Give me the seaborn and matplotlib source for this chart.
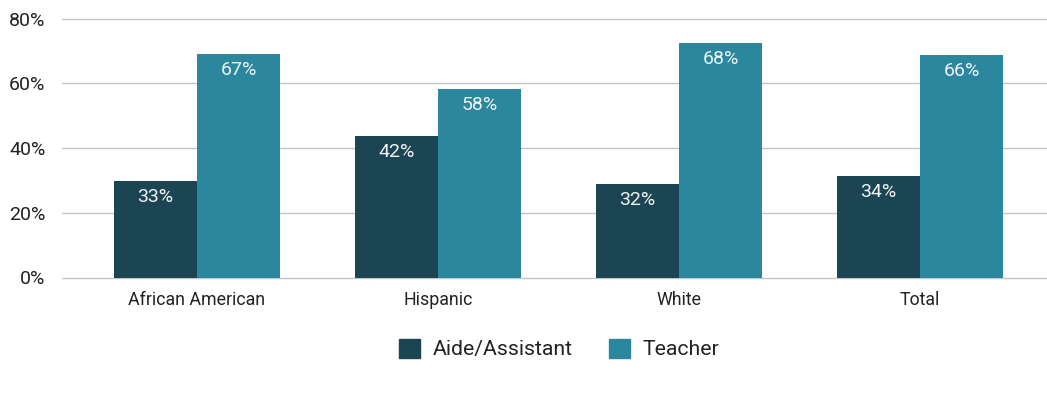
import pandas as pd
import seaborn as sns
import matplotlib.pyplot as plt
from matplotlib.ticker import PercentFormatter

# data (bar heights) and the printed labels
groups = ["African American", "Hispanic", "White", "Total"]
series = ["Aide/Assistant", "Teacher"]
aide_vals = [29.8, 43.7, 28.9, 31.4]
teacher_vals = [69.0, 58.2, 72.4, 68.7]
aide_labels = ["33%", "42%", "32%", "34%"]
teacher_labels = ["67%", "58%", "68%", "66%"]
colors = ["#1c4553", "#2a879e"]

df = pd.DataFrame({
    "group": groups * 2,
    "role": [series[0]] * 4 + [series[1]] * 4,
    "value": aide_vals + teacher_vals,
})

sns.set_theme(style="white")
plt.rcParams["font.family"] = ["Roboto", "DejaVu Sans"]

fig = plt.figure(figsize=(10.47, 4.2), dpi=100)
ax = fig.add_axes([62 / 1047, 142.5 / 420, 1 - 62 / 1047, (277.5 - 18.5) / 420])

sns.barplot(data=df, x="group", y="value", hue="role", order=groups,
            hue_order=series, palette=colors, width=0.69, saturation=1,
            linewidth=0, ax=ax, legend=False)

for cont, labs in zip(ax.containers, [aide_labels, teacher_labels]):
    ax.bar_label(cont, labels=labs, padding=-18, color="#eef3f5", fontsize=14)

ax.set_ylim(0, 80)
ax.set_xlim(-0.56, 3.527)
ax.set_yticks([0, 20, 40, 60, 80])
ax.yaxis.set_major_formatter(PercentFormatter(decimals=0))
ax.grid(axis="y", color="#c4c4c4", linewidth=1)
for gl in ax.yaxis.get_gridlines():
    gl.set_clip_on(False)
ax.set_axisbelow(True)
sns.despine(ax=ax, left=True, bottom=True)
ax.tick_params(axis="both", length=0, colors="#222222")
ax.tick_params(axis="x", pad=10, labelsize=12.8)
ax.tick_params(axis="y", pad=12, labelsize=14)
ax.set_xlabel("")
ax.set_ylabel("")

handles = [plt.Rectangle((0, 0), 1, 1, color=c) for c in colors]
fig.legend(handles, series, loc="center", bbox_to_anchor=(559 / 1047, 1 - 349 / 420),
           ncol=2, frameon=False, fontsize=15.3, handlelength=1.0, handleheight=1.0,
           columnspacing=1.7, handletextpad=0.6, labelcolor="#222222")

fig.savefig("out.png", dpi=100)
